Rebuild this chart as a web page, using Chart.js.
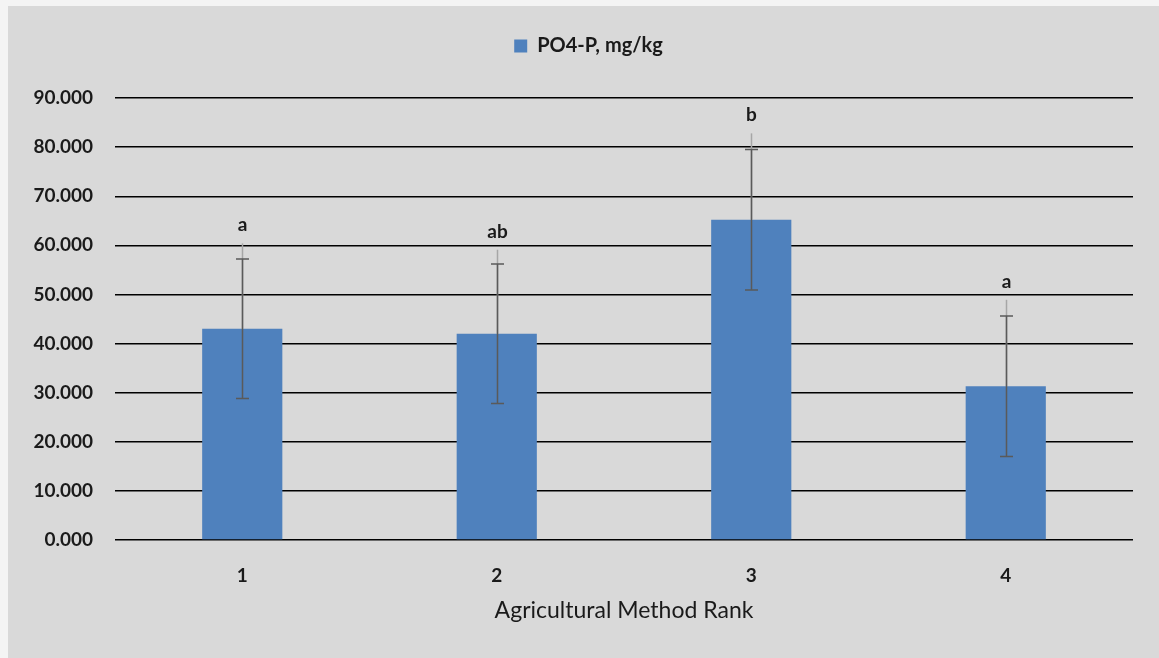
<!DOCTYPE html>
<html>
<head>
<meta charset="utf-8">
<script src="https://cdn.jsdelivr.net/npm/chart.js@4/dist/chart.umd.min.js"></script>
<style>
  html, body { margin: 0; padding: 0; background: #f4f4f4; }
  #frame { position: absolute; left: 8px; top: 6px; width: 1151px; height: 652px; background: #d9d9d9; }
  canvas { display: block; }
</style>
</head>
<body>
<div id="frame"><canvas id="c" width="1151" height="652"></canvas></div>
<script>
// Mean PO4-P per agricultural method rank
const categories = ['1', '2', '3', '4'];
const po4Means = [43.0, 42.0, 65.2, 31.3];
// Standard error (both directions, capped)
const errBoth = [14.2, 14.2, 14.3, 14.3];
// Upper-only spread shown in light grey
const errUpper = [17.4, 17.1, 17.6, 17.6];
// Significance letters
const groupLetters = ['a', 'ab', 'b', 'a'];
// Value axis: range and step
const yMin = 0;
const yMax = 90;
const yStep = 10;

const FONT = 'Lato, "Open Sans", sans-serif';

// Legend row: extra gap below it and a small rightward nudge
const legendTweak = {
  id: 'legendTweak',
  beforeInit(chart) {
    const lg = chart.legend;
    if (!lg) return;
    const fit = lg.fit;
    lg.fit = function () { fit.call(this); this.height += 32; };
    const draw = lg.draw;
    lg.draw = function () {
      const ctx = this.ctx;
      ctx.save();
      ctx.translate(18, 0);
      draw.call(this);
      ctx.restore();
    };
  }
};

const errorBarPlugin = {
  id: 'errorBars',
  afterDatasetsDraw(chart) {
    const ctx = chart.ctx;
    const meta = chart.getDatasetMeta(0);
    const y = chart.scales.y;
    ctx.save();
    meta.data.forEach((bar, i) => {
      const x = Math.round(bar.x) + 0.5;
      const m = po4Means[i];
      // light upper whisker
      const lightTop = y.getPixelForValue(m + errUpper[i]);
      ctx.strokeStyle = '#a6a6a6';
      ctx.lineWidth = 1.5;
      ctx.beginPath();
      ctx.moveTo(x, y.getPixelForValue(m));
      ctx.lineTo(x, lightTop);
      ctx.stroke();
      // dark capped whisker
      const hi = y.getPixelForValue(m + errBoth[i]);
      const lo = y.getPixelForValue(m - errBoth[i]);
      ctx.strokeStyle = '#5a5a5a';
      ctx.lineWidth = 1.5;
      ctx.beginPath();
      ctx.moveTo(x, hi); ctx.lineTo(x, lo);
      ctx.moveTo(x - 6.5, hi); ctx.lineTo(x + 6.5, hi);
      ctx.moveTo(x - 6.5, lo); ctx.lineTo(x + 6.5, lo);
      ctx.stroke();
      // letter
      ctx.fillStyle = '#1a1a1a';
      ctx.font = 'bold 19px ' + FONT;
      ctx.textAlign = 'center';
      ctx.textBaseline = 'middle';
      ctx.fillText(groupLetters[i], x, lightTop - 18);
    });
    ctx.restore();
  }
};

new Chart(document.getElementById('c'), {
  type: 'bar',
  data: {
    labels: categories,
    datasets: [{
      label: 'PO4-P, mg/kg',
      data: po4Means,
      backgroundColor: '#4f81bd',
      borderWidth: 0,
      barPercentage: 0.315,
      categoryPercentage: 1.0
    }]
  },
  options: {
    responsive: false,
    animation: false,
    layout: { padding: { top: 6, right: 26, bottom: 34, left: 0 } },
    plugins: {
      legend: {
        position: 'top',
        labels: {
          font: { family: FONT, size: 20, weight: 'bold' },
          color: '#1a1a1a',
          boxWidth: 13,
          boxHeight: 13,
          padding: 24
        }
      },
      tooltip: { enabled: false }
    },
    scales: {
      x: {
        afterFit(scale) { scale.height = 84; },
        grid: { display: false, drawTicks: false },
        border: { display: false },
        ticks: {
          font: { family: FONT, size: 19, weight: 'bold' },
          color: '#1a1a1a',
          padding: 24
        },
        title: {
          display: true,
          text: 'Agricultural Method Rank',
          font: { family: FONT, size: 23 },
          color: '#1a1a1a',
          padding: { top: 0, bottom: 0 }
        }
      },
      y: {
        min: yMin,
        max: yMax,
        afterFit(scale) { scale.width = 107; },
        grid: { color: '#000000', lineWidth: 1.4, drawTicks: false },
        border: { display: false },
        ticks: {
          stepSize: yStep,
          font: { family: FONT, size: 19, weight: 'bold' },
          color: '#1a1a1a',
          padding: 22,
          callback: (value) => Number(value).toFixed(3)
        }
      }
    }
  },
  plugins: [legendTweak, errorBarPlugin]
});
</script>
</body>
</html>
